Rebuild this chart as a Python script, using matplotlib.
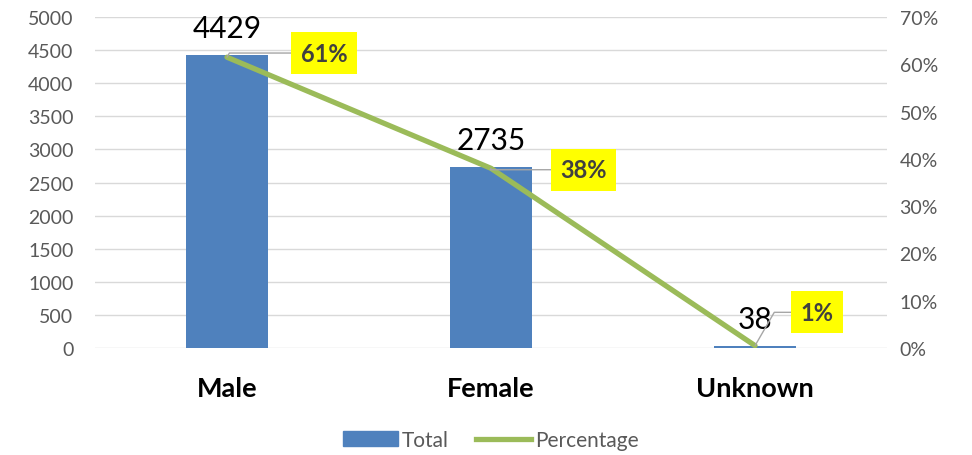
import matplotlib
matplotlib.use("Agg")
from matplotlib import pyplot as plt
from matplotlib.patches import Patch
from matplotlib.lines import Line2D

plt.rcParams['font.family'] = ['Lato', 'DejaVu Sans']

categories = ["Male", "Female", "Unknown"]
totals = [4429, 2735, 38]
percentages = [0.615, 0.380, 0.005]
pct_labels = ["61%", "38%", "1%"]

bar_color = "#4F81BD"
line_color = "#9BBB59"
grey = "#595959"

fig = plt.figure(figsize=(9.72, 4.56), dpi=100)
ax = fig.add_axes([0.0977, 0.2346, 0.8149, 0.7259])
ax2 = ax.twinx()

x = list(range(len(categories)))
ax.bar(x, totals, width=0.31, color=bar_color, zorder=2)
ax.set_xlim(-0.5, 2.5)
ax.set_ylim(0, 5000)
ax.set_yticks(range(0, 5001, 500))
ax.grid(axis='y', color="#d9d9d9", linewidth=1, zorder=0)
ax.set_axisbelow(True)
ax.set_xticks(x)
ax.set_xticklabels(categories, fontsize=19.5, fontweight='bold', color='black')
ax.tick_params(axis='x', length=0, pad=20)
ax.tick_params(axis='y', length=0, labelsize=14, labelcolor=grey, pad=15.5)
for s in ax.spines.values():
    s.set_visible(False)
for s in ax2.spines.values():
    s.set_visible(False)

ax2.plot(x, percentages, color=line_color, linewidth=3.8, solid_capstyle='round', zorder=3)
ax2.set_ylim(0, 0.7)
ax2.set_yticks([i / 10 for i in range(8)])
ax2.set_yticklabels([f"{i * 10}%" for i in range(8)])
ax2.tick_params(axis='y', length=0, labelsize=14, labelcolor=grey, pad=9)

# value labels above bars
for xi, v in zip(x, totals):
    ax.annotate(str(v), (xi, v), xytext=(0, 9), textcoords='offset points',
                ha='center', va='bottom', fontsize=21.5, color='black')

# percentage callouts
offsets = [(53, 3), (50, -1), (33, 24)]
for xi, p, lab, off in zip(x, percentages, pct_labels, offsets):
    ax2.annotate(lab, (xi, p), xytext=off, textcoords='offset points',
                 ha='left', va='center', fontsize=17, fontweight='bold', color="#404040",
                 bbox=dict(boxstyle='square,pad=0.4', fc='yellow', ec='none'),
                 arrowprops=dict(arrowstyle='-', color="#a6a6a6", lw=1,
                                 shrinkA=0, shrinkB=0,
                                 connectionstyle='angle,angleA=0,angleB=60,rad=0'))

handles = [Patch(color=bar_color), Line2D([0], [0], color=line_color, linewidth=3.8)]
fig.legend(handles, ["Total", "Percentage"], loc='center', bbox_to_anchor=(0.505, 0.033),
           ncol=2, frameon=False, fontsize=15, labelcolor=grey,
           handlelength=2.65, handletextpad=0.2, columnspacing=1.3)

plt.savefig("out.png", dpi=100)
plt.close()
